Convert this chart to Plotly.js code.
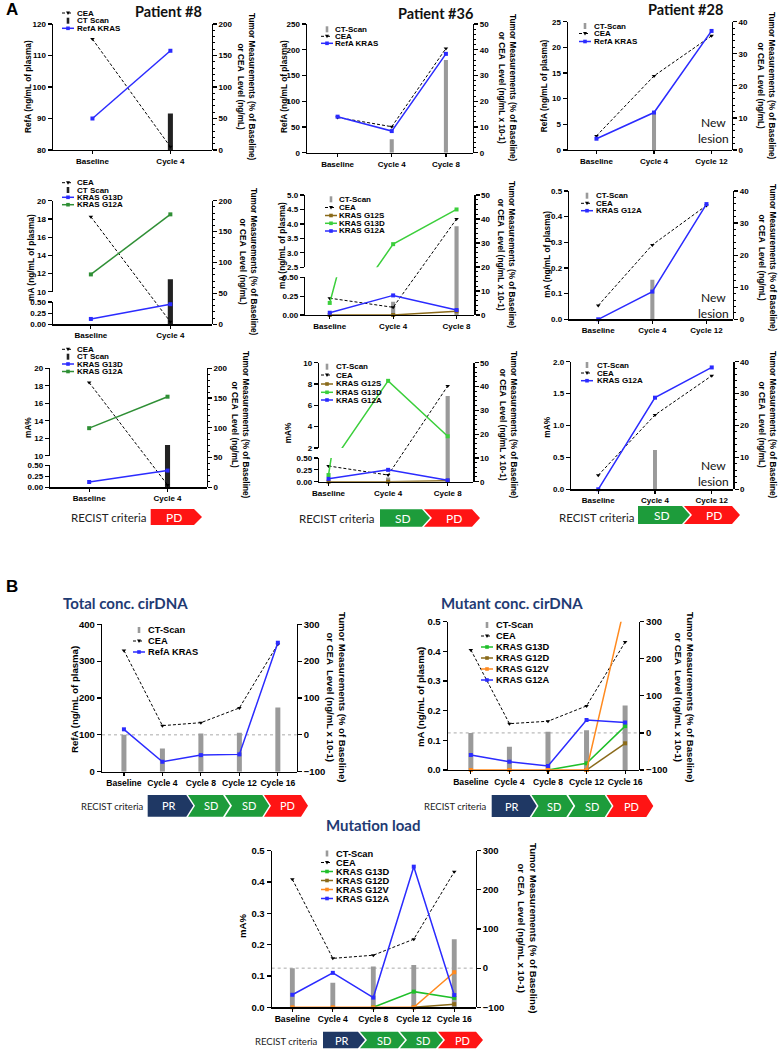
<!DOCTYPE html>
<html><head><meta charset="utf-8">
<script src="https://cdn.plot.ly/plotly-3.0.1.min.js"></script>
<style>html,body{margin:0;padding:0;background:#fff}#c{width:778px;height:1050px}</style>
</head><body><div id="c"></div>
<script>
// ---------------- DATA ----------------
const p8Cats = ['Baseline', 'Cycle 4'];
const p36Cats = ['Baseline', 'Cycle 4', 'Cycle 8'];
const p28Cats = ['Baseline', 'Cycle 4', 'Cycle 12'];
const bCats = ['Baseline', 'Cycle 4', 'Cycle 8', 'Cycle 12', 'Cycle 16'];

// Patient #8
const p8r1RefA = [90, 111.5];
const p8r1Cea = [176, 5];
const p8r1Ct = [null, 58];
const p8r2G13D = [0.12, 0.45];
const p8r2G12A = [11.9, 18.5];
const p8r2Cea = [174, 4];
const p8r2Ct = [null, 73];
const p8r3G13D = [0.12, 0.38];
const p8r3G12A = [13.15, 16.75];
const p8r3Cea = [176, 4];
const p8r3Ct = [null, 71];

// Patient #36
const p36r1RefA = [70, 42, 192];
const p36r1Cea = [13.7, 10.1, 40.5];
const p36r1Ct = [null, 5.2, 36];
const p36r2G12S = [0, 0, 0.05];
const p36r2G13D = [0.16, 3.3, 4.5];
const p36r2G12A = [0.03, 0.26, 0.066];
const p36r2Cea = [7, 3.2, 40];
const p36r2Ct = [null, 5.5, 37];
const p36r3G12S = [0, 0, 0.02];
const p36r3G13D = [0.14, 8.3, 3.1];
const p36r3G12A = [0.06, 0.25, 0.03];
const p36r3Cea = [6.6, 2.8, 40.2];
const p36r3Ct = [null, 1.8, 36];

// Patient #28
const p28r1RefA = [2.2, 7.3, 23.2];
const p28r1Cea = [4.4, 23.1, 35.6];
const p28r1Ct = [null, 12, null];
const p28r2G12A = [0, 0.108, 0.449];
const p28r2Cea = [4.3, 23.2, 35.5];
const p28r2Ct = [null, 12.3, null];
const p28r3G12A = [0, 1.436, 1.91];
const p28r3Cea = [4.4, 23.3, 35.6];
const p28r3Ct = [null, 12.3, null];

// Panel B
const bTotalRefA = [115, 27, 45, 47, 350];
const bTotalCea = [229, 25, 33, 73, 246];
const bTotalCt = [0, -37, 4, 6, 74];
const bMutG13D = [null, null, 0, 0.0225, 0.148];
const bMutG12D = [null, null, null, 0, 0.09];
const bMutG12V = [0, 0, 0, 0, 0.56];
const bMutG12A = [0.0506, 0.028, 0.0135, 0.1685, 0.16];
const bMutCea = [224, 25, 31.5, 72.8, 245];
const bMutCt = [0, -37.5, 3, 7, 74];
const bLoadG13D = [null, null, 0, 0.05, 0.03];
const bLoadG12D = [null, null, null, 0, 0.01];
const bLoadG12V = [0, 0, 0, 0, 0.112];
const bLoadG12A = [0.04, 0.11, 0.031, 0.449, 0.039];
const bLoadCea = [227, 25, 33, 74, 246];
const bLoadCt = [0, -37, 4, 8, 74];

// ---------------- STYLE ----------------
const BLUE = '#2b2bff', GREEN_D = '#2f8f35', GREEN = '#3ccf3c', GREEN_B = '#1fbf2a',
      BROWN = '#8a6a1a', ORANGE = '#ff8a1f', GRAY = '#9a9a9a', DARK = '#222222';
const FA = 'Arial, "Liberation Sans", sans-serif';
const FT = 'Lato, "Open Sans", sans-serif';
const W = 778, H = 1050;
const X = v => v / W, Y = v => 1 - v / H;

const layout = {
  width: W, height: H, margin: {l: 0, r: 0, t: 0, b: 0}, showlegend: false,
  paper_bgcolor: '#fff', plot_bgcolor: 'rgba(0,0,0,0)', shapes: [], annotations: []
};
const traces = [];
let xc = 0, yc = 0;
const id = n => n === 1 ? '' : String(n);

function ann(o) { layout.annotations.push(Object.assign({xref: 'paper', yref: 'paper', showarrow: false}, o)); }

const RT8 = ['Tumor Measurements (% of Baseline)', 'or CEA  Level (ng/mL)'];
const RT36 = ['Tumor Measurements (% of Baseline)', 'or CEA  Level (ng/mL x 10-1)'];

function addPanel(p) {
  const xi = ++xc; const xs = 'x' + id(xi);
  const yRi = ++yc, yLi = ++yc; const yUi = p.U ? ++yc : null;
  const ys = i => 'y' + id(i);
  const tf = {family: FA, size: p.fs, color: '#000', weight: 'bold'};
  const base = {showline: true, linecolor: '#000', linewidth: 1.2, ticks: 'outside', ticklen: 4, tickwidth: 1.2,
    tickcolor: '#000', showgrid: false, zeroline: false, tickfont: tf, fixedrange: true};
  layout['xaxis' + id(xi)] = Object.assign({}, base, {domain: [X(p.x[0]), X(p.x[1])], anchor: ys(yLi), range: p.xr,
    tickmode: 'array', tickvals: p.cats.map((_, i) => i), ticktext: p.cats, ticklen: 3, tickangle: 0,
    tickfont: {family: FA, size: p.xfs, color: '#000', weight: 'bold'}});
  const full = [Y(p.yB), Y(p.yT)];
  const R = Object.assign({}, base, {domain: full, anchor: xs, side: 'right', range: p.R.range, tickmode: 'linear',
    tick0: p.R.range[0], dtick: p.R.dtick});
  if (p.minor) R.minor = {ticks: 'outside', ticklen: 2, tickcolor: '#000', tickwidth: 1, dtick: p.R.dtick / 5};
  layout['yaxis' + id(yRi)] = R;
  const Ld = p.U ? [Y(p.L.dom[1]), Y(p.L.dom[0])] : full;
  layout['yaxis' + id(yLi)] = Object.assign({}, base, {domain: Ld, anchor: xs, side: 'left', range: p.L.range,
    tickmode: 'linear', tick0: p.L.range[0], dtick: p.L.dtick, tickformat: p.L.fmt || ''});
  if (p.U) layout['yaxis' + id(yUi)] = Object.assign({}, base, {domain: [Y(p.U.dom[1]), Y(p.U.dom[0])], anchor: xs,
    side: 'left', range: p.U.range, tickmode: 'linear', tick0: p.U.range[0], dtick: p.U.dtick, tickformat: p.U.fmt || ''});
  const xv = p.cats.map((_, i) => i);
  traces.push({type: 'bar', x: xv, y: p.ct.map(v => v == null ? null : v - p.base), base: p.base, width: p.bw,
    marker: {color: p.ctColor, line: {width: 0}}, xaxis: xs, yaxis: ys(yRi), hoverinfo: 'skip'});
  traces.push({type: 'scatter', mode: 'lines+markers', x: xv, y: p.cea, xaxis: xs, yaxis: ys(yRi),
    line: {color: '#000', width: 1, dash: '3px,2px'}, marker: {symbol: 'triangle-down', size: 4, color: '#000'},
    cliponaxis: false, hoverinfo: 'skip'});
  p.lines.forEach(s => {
    [yLi, yUi].filter(Boolean).forEach(yi => traces.push({type: 'scatter', mode: 'lines+markers', x: xv, y: s.y,
      xaxis: xs, yaxis: ys(yi), line: {color: s.c, width: 1.5}, marker: {symbol: 'square', size: 4, color: s.c},
      cliponaxis: false, hoverinfo: 'skip'}));
  });
  if (p.zeroLine) layout.shapes.push({type: 'line', xref: 'paper', x0: X(p.x[0]), x1: X(p.x[1]), yref: ys(yRi),
    y0: 0, y1: 0, line: {color: '#aaa', width: 1, dash: 'dot'}, layer: 'below'});
  // legend
  p.leg.forEach((e, i) => {
    const y = p.legY[i], sx = p.legX;
    if (e.k === 'bar') {
      layout.shapes.push({type: 'rect', xref: 'paper', yref: 'paper', x0: X(sx - 1.3), x1: X(sx + 1.3), y0: Y(y + 3), y1: Y(y - 3),
        fillcolor: e.c, line: {width: 0}});
    } else {
      const cea = e.k === 'cea';
      layout.shapes.push({type: 'line', xref: 'paper', yref: 'paper', x0: X(sx - 6), x1: X(sx + 6), y0: Y(y), y1: Y(y),
        line: {color: e.c, width: cea ? 1 : 1.5, dash: cea ? 'dot' : 'solid'}});
      if (cea) layout.shapes.push({type: 'path', xref: 'paper', yref: 'paper',
        path: `M${X(sx - 2)},${Y(y - 1.5)}L${X(sx + 2)},${Y(y - 1.5)}L${X(sx)},${Y(y + 2)}Z`, fillcolor: '#000', line: {width: 0}});
      else layout.shapes.push({type: 'rect', xref: 'paper', yref: 'paper', x0: X(sx - 1.8), x1: X(sx + 1.8), y0: Y(y + 1.8), y1: Y(y - 1.8),
        fillcolor: e.c, line: {width: 0}});
    }
    ann({x: X(p.legTx), y: Y(y), xanchor: 'left', yanchor: 'middle', text: e.n,
      font: {family: FA, size: p.lfs, weight: 'bold', color: '#000'}});
  });
  // titles
  ann({x: X(p.lt[1]), y: Y(p.lt[2]), text: p.lt[0], textangle: -90, xanchor: 'center', yanchor: 'middle',
    font: {family: FA, size: p.tfs, weight: 'bold', color: '#000'}});
  ann({x: X(p.rt[1]), y: Y(p.rt[2]), text: p.rt[0].join('<br>'), textangle: 90, xanchor: 'center', yanchor: 'middle',
    font: {family: FA, size: p.tfs, weight: 'bold', color: '#000'}});
}

const LB = (n, c) => ({n, k: 'bar', c});
const LC = {n: 'CEA', k: 'cea', c: '#000'};
const LL = (n, c) => ({n, k: 'line', c});

const A = {fs: 8, xfs: 8, lfs: 8, tfs: 8.3, minor: true, base: 0};
const B = {fs: 9.5, xfs: 8.6, lfs: 9.3, tfs: 9.6, minor: false, base: -100, zeroLine: true};

// Row 1
addPanel(Object.assign({}, A, {x: [52.7, 211.7], yT: 24, yB: 150, cats: p8Cats, xr: [-0.51, 1.53],
  L: {range: [80, 120], dtick: 10}, R: {range: [0, 200], dtick: 50},
  lines: [{y: p8r1RefA, c: BLUE}], cea: p8r1Cea, ct: p8r1Ct, ctColor: DARK, bw: 0.065,
  leg: [LC, LB('CT Scan', DARK), LL('RefA KRAS', BLUE)], legY: [13, 20.7, 28.3], legX: 68, legTx: 75,
  lt: ['RefA (ng/mL of plasma)', 28, 87], rt: [RT8, 247, 87]}));
addPanel(Object.assign({}, A, {x: [306.7, 473], yT: 24, yB: 152.7, cats: p36Cats, xr: [-0.57, 2.5],
  L: {range: [0, 250], dtick: 50}, R: {range: [0, 50], dtick: 10},
  lines: [{y: p36r1RefA, c: BLUE}], cea: p36r1Cea, ct: p36r1Ct, ctColor: GRAY, bw: 0.075,
  leg: [LB('CT-Scan', GRAY), LC, LL('RefA KRAS', BLUE)], legY: [29.3, 36.3, 43.3], legX: 327, legTx: 333,
  lt: ['RefA (ng/mL of plasma)', 284, 87], rt: [RT36, 507, 88]}));
addPanel(Object.assign({}, A, {x: [567.7, 731.7], yT: 21.7, yB: 150, cats: p28Cats, xr: [-0.5, 2.35],
  L: {range: [0, 25], dtick: 5}, R: {range: [0, 40], dtick: 10},
  lines: [{y: p28r1RefA, c: BLUE}], cea: p28r1Cea, ct: p28r1Ct, ctColor: GRAY, bw: 0.07,
  leg: [LB('CT-Scan', GRAY), LC, LL('RefA KRAS', BLUE)], legY: [26, 33.5, 41.5], legX: 585, legTx: 592,
  lt: ['RefA (ng/mL of plasma)', 544.3, 86], rt: [RT8, 767, 86]}));
// Row 2
addPanel(Object.assign({}, A, {x: [52.7, 211.7], yT: 200.7, yB: 324.3, cats: p8Cats, xr: [-0.48, 1.52],
  U: {dom: [200.7, 291.7], range: [10, 20], dtick: 2}, L: {dom: [302, 324.3], range: [0, 0.5], dtick: 0.25, fmt: '.2f'},
  R: {range: [0, 200], dtick: 50},
  lines: [{y: p8r2G13D, c: BLUE}, {y: p8r2G12A, c: GREEN_D}], cea: p8r2Cea, ct: p8r2Ct, ctColor: DARK, bw: 0.065,
  leg: [LC, LB('CT Scan', DARK), LL('KRAS G13D', BLUE), LL('KRAS G12A', GREEN_D)], legY: [182.7, 190, 197.3, 204.7],
  legX: 68, legTx: 75, lt: ['mA (ng/mL of plasma)', 31, 258], rt: [RT8, 248, 262]}));
addPanel(Object.assign({}, A, {x: [305, 474.3], yT: 195, yB: 315, cats: p36Cats, xr: [-0.39, 2.28],
  U: {dom: [195, 267.3], range: [2.5, 5], dtick: 0.5, fmt: '.1f'}, L: {dom: [277.3, 315], range: [0, 0.5], dtick: 0.25, fmt: '.2f'},
  R: {range: [0, 50], dtick: 10},
  lines: [{y: p36r2G12S, c: BROWN}, {y: p36r2G13D, c: GREEN}, {y: p36r2G12A, c: BLUE}], cea: p36r2Cea, ct: p36r2Ct,
  ctColor: GRAY, bw: 0.065,
  leg: [LB('CT-Scan', GRAY), LC, LL('KRAS G12S', BROWN), LL('KRAS G13D', GREEN), LL('KRAS G12A', BLUE)],
  legY: [199.3, 207.5, 215.5, 223.3, 231], legX: 331, legTx: 337,
  lt: ['mA (ng/mL of plasma)', 282, 246], rt: [RT36, 507, 255]}));
addPanel(Object.assign({}, A, {x: [569, 733], yT: 191, yB: 319.3, cats: p28Cats, xr: [-0.54, 2.49],
  L: {range: [0, 0.5], dtick: 0.1, fmt: '.1f'}, R: {range: [0, 40], dtick: 10},
  lines: [{y: p28r2G12A, c: BLUE}], cea: p28r2Cea, ct: p28r2Ct, ctColor: GRAY, bw: 0.075,
  leg: [LB('CT-Scan', GRAY), LC, LL('KRAS G12A', BLUE)], legY: [195.7, 203.3, 210.7], legX: 587, legTx: 594,
  lt: ['mA (ng/mL of plasma)', 546.7, 254], rt: [RT8, 768, 258]}));
// Row 3
addPanel(Object.assign({}, A, {x: [50, 206.7], yT: 368.3, yB: 487.3, cats: p8Cats, xr: [-0.5, 1.5],
  U: {dom: [368.3, 455.7], range: [10, 20], dtick: 2}, L: {dom: [465.3, 487.3], range: [0, 0.5], dtick: 0.25, fmt: '.2f'},
  R: {range: [0, 200], dtick: 50},
  lines: [{y: p8r3G13D, c: BLUE}, {y: p8r3G12A, c: GREEN_D}], cea: p8r3Cea, ct: p8r3Ct, ctColor: DARK, bw: 0.065,
  leg: [LC, LB('CT Scan', DARK), LL('KRAS G13D', BLUE), LL('KRAS G12A', GREEN_D)], legY: [349.3, 356.7, 364, 371.5],
  legX: 68, legTx: 75, lt: ['mA%', 28, 428], rt: [RT8, 241, 425]}));
addPanel(Object.assign({}, A, {x: [319, 473.3], yT: 362.7, yB: 481.7, cats: p36Cats, xr: [-0.16, 2.43],
  U: {dom: [362.7, 448], range: [2, 10], dtick: 2}, L: {dom: [458, 481.7], range: [0, 0.5], dtick: 0.25, fmt: '.2f'},
  R: {range: [0, 50], dtick: 10},
  lines: [{y: p36r3G12S, c: BROWN}, {y: p36r3G13D, c: GREEN}, {y: p36r3G12A, c: BLUE}], cea: p36r3Cea, ct: p36r3Ct,
  ctColor: GRAY, bw: 0.07,
  leg: [LB('CT-Scan', GRAY), LC, LL('KRAS G12S', BROWN), LL('KRAS G13D', GREEN), LL('KRAS G12A', BLUE)],
  legY: [366.7, 375, 384, 392.3, 400], legX: 327, legTx: 334,
  lt: ['mA%', 288.3, 433], rt: [RT36, 509, 425]}));
addPanel(Object.assign({}, A, {x: [571, 733.3], yT: 361.7, yB: 489.3, cats: p28Cats, xr: [-0.48, 2.38],
  L: {range: [0, 2], dtick: 0.5, fmt: '.1f'}, R: {range: [0, 40], dtick: 10},
  lines: [{y: p28r3G12A, c: BLUE}], cea: p28r3Cea, ct: p28r3Ct, ctColor: GRAY, bw: 0.07,
  leg: [LB('CT-Scan', GRAY), LC, LL('KRAS G12A', BLUE)], legY: [365, 373, 380.7], legX: 587, legTx: 595,
  lt: ['mA%', 546.7, 427], rt: [RT8, 768, 425]}));
// Panel B
addPanel(Object.assign({}, B, {x: [102, 296.7], yT: 624.3, yB: 771.7, cats: bCats, xr: [-0.57, 4.49],
  L: {range: [0, 400], dtick: 100}, R: {range: [-100, 300], dtick: 100},
  lines: [{y: bTotalRefA, c: BLUE}], cea: bTotalCea, ct: bTotalCt, ctColor: GRAY, bw: 0.13,
  leg: [LB('CT-Scan', GRAY), LC, LL('RefA KRAS', BLUE)], legY: [630, 641, 652], legX: 139, legTx: 146,
  lt: ['RefA (ng/mL of plasma)', 74, 700], rt: [RT36, 337, 697]}));
addPanel(Object.assign({}, B, {x: [447.7, 639], yT: 621.7, yB: 770, cats: bCats, xr: [-0.6, 4.36],
  L: {range: [0, 0.5], dtick: 0.1, fmt: '.1f'}, R: {range: [-100, 300], dtick: 100},
  lines: [{y: bMutG13D, c: GREEN_B}, {y: bMutG12D, c: BROWN}, {y: bMutG12V, c: ORANGE}, {y: bMutG12A, c: BLUE}],
  cea: bMutCea, ct: bMutCt, ctColor: GRAY, bw: 0.13,
  leg: [LB('CT-Scan', GRAY), LC, LL('KRAS G13D', GREEN_B), LL('KRAS G12D', BROWN), LL('KRAS G12V', ORANGE), LL('KRAS G12A', BLUE)],
  legY: [625, 636, 647, 658, 669, 680], legX: 487, legTx: 494,
  lt: ['mA (ng/mL of plasma)', 420, 697], rt: [RT36, 685, 697]}));
addPanel(Object.assign({}, B, {x: [271.7, 475.7], yT: 850.7, yB: 1007.3, cats: bCats, xr: [-0.51, 4.53],
  L: {range: [0, 0.5], dtick: 0.1, fmt: '.1f'}, R: {range: [-100, 300], dtick: 100},
  lines: [{y: bLoadG13D, c: GREEN_B}, {y: bLoadG12D, c: BROWN}, {y: bLoadG12V, c: ORANGE}, {y: bLoadG12A, c: BLUE}],
  cea: bLoadCea, ct: bLoadCt, ctColor: GRAY, bw: 0.12,
  leg: [LB('CT-Scan', GRAY), LC, LL('KRAS G13D', GREEN_B), LL('KRAS G12D', BROWN), LL('KRAS G12V', ORANGE), LL('KRAS G12A', BLUE)],
  legY: [853.5, 862.5, 871.5, 880.5, 889.5, 898.5], legX: 327, legTx: 334,
  lt: ['mA%', 242, 926], rt: [RT36, 528, 928]}));

// ---------------- TEXT ----------------
ann({x: X(4), y: Y(10), text: 'A', xanchor: 'left', yanchor: 'middle', font: {family: FA, size: 17, weight: 'bold', color: '#000'}});
ann({x: X(4), y: Y(586), text: 'B', xanchor: 'left', yanchor: 'middle', font: {family: FA, size: 17, weight: 'bold', color: '#000'}});
[['Patient #8', 168, 11], ['Patient #36', 435, 13], ['Patient #28', 685, 10]].forEach(t =>
  ann({x: X(t[1]), y: Y(t[2]), text: t[0], xanchor: 'center', yanchor: 'middle', font: {family: FT, size: 14.5, weight: 'bold', color: '#111'}}));
[[713, 130], [713, 305], [713, 474]].forEach(t =>
  ann({x: X(t[0]), y: Y(t[1]), text: 'New<br>lesion', xanchor: 'center', yanchor: 'middle', font: {family: FT, size: 12, color: '#111'}}));
const NAVY = '#1f3b73';
[['Total conc. cirDNA', 125, 603], ['Mutant conc. cirDNA', 512, 603], ['Mutation load', 373, 825]].forEach(t =>
  ann({x: X(t[1]), y: Y(t[2]), text: t[0], xanchor: 'center', yanchor: 'middle', font: {family: FT, size: 15, weight: 'bold', color: NAVY}}));

// RECIST arrows
const RC = {PR: '#1f3864', SD: '#1d9c3b', PD: '#ff1414'};
function recist(tx, ty, fs, items, y0, y1, d, lfs) {
  ann({x: X(tx), y: Y(ty), text: 'RECIST criteria', xanchor: 'right', yanchor: 'middle', font: {family: FT, size: fs, color: '#222'}});
  items.forEach((a, i) => {
    const ym = (y0 + y1) / 2;
    const pts = [[a[1], y0], [a[2] - d, y0], [a[2], ym], [a[2] - d, y1], [a[1], y1]];
    if (i > 0) pts.push([a[1] + d, ym]);
    layout.shapes.push({type: 'path', xref: 'paper', yref: 'paper', fillcolor: RC[a[0]], line: {width: 0},
      path: 'M' + pts.map(q => X(q[0]) + ',' + Y(q[1])).join('L') + 'Z'});
    const cx = (a[1] + (i > 0 ? d : 0) + a[2]) / 2 - d / 4;
    ann({x: X(cx), y: Y(ym), text: a[0], xanchor: 'center', yanchor: 'middle', font: {family: FT, size: lfs, color: '#fff'}});
  });
}
recist(148, 517, 11.5, [['PD', 150.7, 202]], 509, 525, 8, 12);
recist(376, 519, 11.5, [['SD', 380, 430], ['PD', 424, 480]], 509.3, 526.7, 8, 12);
recist(636, 517, 11.5, [['SD', 638, 690], ['PD', 684, 740]], 506, 524, 8, 12);
recist(146, 806, 9.5, [['PR', 147.7, 193.3], ['SD', 188, 230], ['SD', 225, 269.3], ['PD', 264, 308]], 795, 816.7, 7, 11);
recist(489, 806, 9.5, [['PR', 491.7, 536.7], ['SD', 531.5, 573.3], ['SD', 568.3, 611.7], ['PD', 606.5, 653.3]], 795, 817, 7, 11);
recist(320, 1041, 9.5, [['PR', 323, 365], ['SD', 360, 405], ['SD', 400, 443], ['PD', 438, 483]], 1031.7, 1048.3, 7, 11);

Plotly.newPlot('c', traces, layout, {staticPlot: true, displayModeBar: false});
</script>
</body></html>
